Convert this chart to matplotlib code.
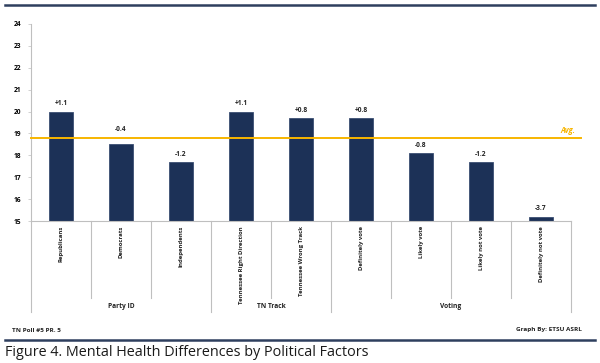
import matplotlib.pyplot as plt
from matplotlib.lines import Line2D

# data
categories = ['Republicans', 'Democrats', 'Independents',
              'Tennessee Right Direction', 'Tennessee Wrong Track',
              'Definitely vote', 'Likely vote', 'Likely not vote', 'Definitely not vote']
values = [20.0, 18.5, 17.7, 20.0, 19.7, 19.7, 18.1, 17.7, 15.2]
diff_labels = ['+1.1', '-0.4', '-1.2', '+1.1', '+0.8', '+0.8', '-0.8', '-1.2', '-3.7']
groups = ['Party ID', 'TN Track', 'Voting']
group_sizes = [3, 2, 4]
avg = 18.8

navy = '#1c3157'
gold = '#f7b500'
grey = '#bfbfbf'
plt.rcParams['font.family'] = ['Open Sans', 'DejaVu Sans']

fig = plt.figure(figsize=(6, 3.63), dpi=100)
W, H = 600, 363
ax = fig.add_axes([31/W, 1-221/H, 540/W, 197/H])

x = list(range(len(categories)))
ax.bar(x, values, width=0.4, bottom=0, color=navy, edgecolor='#3b4f73', linewidth=0.6, zorder=2)
ax.set_xlim(-0.5, len(categories)-0.5)
ax.set_ylim(15, 24)
ax.set_yticks(range(15, 25))
ax.tick_params(axis='y', labelsize=4.8, length=2, width=0.5, color=grey, pad=5)
for t in ax.get_yticklabels():
    t.set_fontweight('bold')
ax.set_xticks([])
for s in ['top', 'right']:
    ax.spines[s].set_visible(False)
ax.spines['left'].set_color(grey)
ax.spines['bottom'].set_color(grey)
ax.spines['left'].set_linewidth(0.8)
ax.spines['bottom'].set_linewidth(0.8)

for xi, v, lab in zip(x, values, diff_labels):
    # keep the label clear of the average line
    y = v + 0.2
    if v < avg and v + 0.6 > avg:
        y = avg + 0.2
    ax.text(xi, y, lab, ha='center', va='bottom', fontsize=4.8, fontweight='bold', color='#222222')

# average line
ax.plot([-0.5, 8.67], [avg, avg], color=gold, lw=1.4, clip_on=False, zorder=3)
ax.text(8.33, avg + 0.12, 'Avg.', color=gold, fontsize=5.5, fontweight='bold', style='italic',
        ha='left', va='bottom')

# category labels and separators below axis
tr = ax.get_xaxis_transform()
for xi, c in zip(x, categories):
    ax.text(xi, -0.025, c, rotation=90, ha='center', va='top', fontsize=4.3,
            fontweight='bold', color='#222222', transform=tr)
bounds = [0]
for g in group_sizes:
    bounds.append(bounds[-1] + g)
for i in range(len(categories) + 1):
    xb = i - 0.5
    depth = -0.46 if i in bounds else -0.39
    ax.add_line(Line2D([xb, xb], [0, depth], transform=tr, color=grey, lw=0.8, clip_on=False))
for g, s, e in zip(groups, bounds[:-1], bounds[1:]):
    ax.text((s + e - 1) / 2, -0.435, g, ha='center', va='center', fontsize=4.8,
            fontweight='bold', color='#222222', transform=tr)

# frame lines and footer
fig.add_artist(Line2D([5/W, 595/W], [1-5/H, 1-5/H], color='#2e3f5e', lw=1.8))
fig.add_artist(Line2D([5/W, 595/W], [1-340/H, 1-340/H], color='#2e3f5e', lw=1.8))
fig.text(12/W, 1-330/H, 'TN Poll #5 PR. 5', fontsize=4.6, fontweight='bold', color='#222222', va='center')
fig.text(582/W, 1-330/H, 'Graph By: ETSU ASRL', fontsize=4.6, fontweight='bold', color='#222222',
         va='center', ha='right')
fig.text(5/W, 1-353/H, 'Figure 4. Mental Health Differences by Political Factors', fontsize=10.4,
         family='Open Sans', color='#1a1a1a', va='center')

fig.savefig('out.png', dpi=100)
